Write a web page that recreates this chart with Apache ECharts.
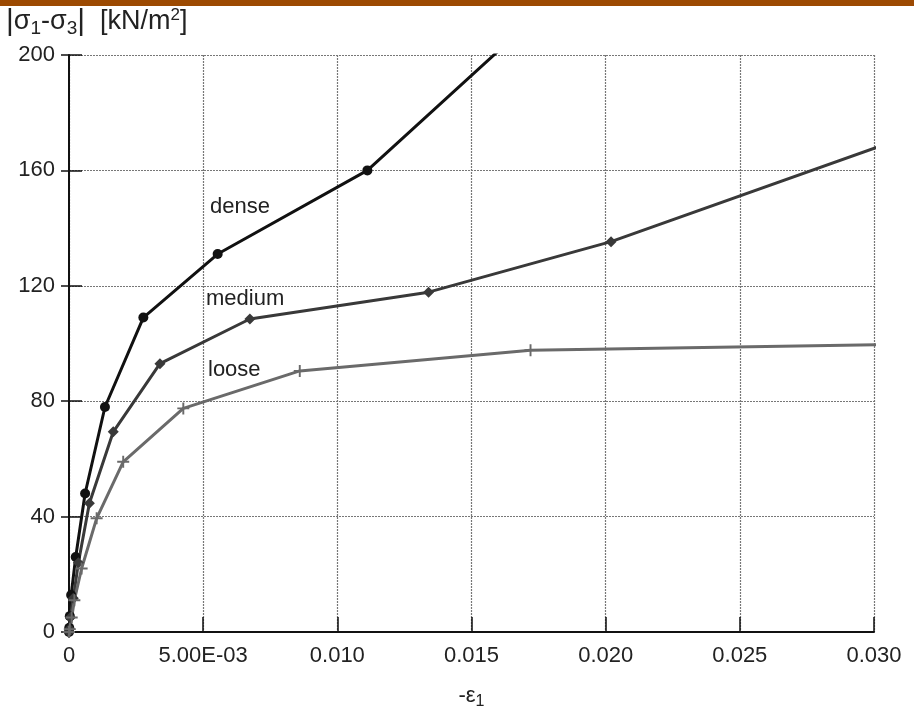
<!DOCTYPE html>
<html><head><meta charset="utf-8">
<script src="https://cdn.jsdelivr.net/npm/echarts@6/dist/echarts.min.js"></script>
</head>
<body style="margin:0;padding:0;background:#fff;">
<div id="chart" style="width:914px;height:710px;"></div>
<script>
// strain (-eps1) and deviator stress |s1-s3| [kN/m2]
const denseX  = [0, 0.00001, 0.00003, 0.00008, 0.00025, 0.0006, 0.00134, 0.00277, 0.00554, 0.01112, 0.0222];
const denseY  = [0, 1.5, 5.5, 12.8, 26, 48, 78, 109, 131, 160, 254];
const mediumX = [0, 0.00002, 0.00005, 0.00016, 0.00035, 0.00076, 0.00165, 0.00339, 0.00674, 0.0134, 0.0202, 0.0404];
const mediumY = [0, 1, 5, 11.7, 24, 44.6, 69.4, 93, 108.5, 117.8, 135.3, 202];
const looseX  = [0, 0.00003, 0.0001, 0.0002, 0.00047, 0.00103, 0.00202, 0.00426, 0.0086, 0.0172, 0.0344];
const looseY  = [0, 1, 5, 11, 22, 39.4, 59, 77.5, 90.5, 97.7, 100.2];

const xTicks = [0, 0.005, 0.010, 0.015, 0.020, 0.025, 0.030];
const xTickLabels = ['0', '5.00E-03', '0.010', '0.015', '0.020', '0.025', '0.030'];
const yTicks = [0, 40, 80, 120, 160, 200];

const zip = (xs, ys) => xs.map((x, i) => [x, ys[i]]);
const font = '"Liberation Sans", Arial, sans-serif';
const txt = '#222';

const chart = echarts.init(document.getElementById('chart'));

const crossPath = 'path://M4.2,0h1.6v10h-1.6z M0,4.2h10v1.6h-10z';
const grid = { type: [2, 1], color: '#777', width: 1.2 };

chart.setOption({
  animation: false,
  grid: { left: 69, right: 40, top: 55, bottom: 78, outerBoundsMode: 'none', containLabel: false },
  xAxis: {
    type: 'value', min: 0, max: 0.03, interval: 0.005,
    name: '{a|-ε}{s|1}', nameLocation: 'middle', nameGap: 50,
    nameTextStyle: {
      rich: {
        a: { fontFamily: font, fontSize: 22, color: txt },
        s: { fontFamily: font, fontSize: 16, color: txt, padding: [12, 0, 0, 0] }
      }
    },
    axisLine: { lineStyle: { color: '#111', width: 2 } },
    axisTick: { inside: true, length: 15, lineStyle: { color: '#111', width: 1.5 } },
    axisLabel: {
      margin: 13, fontFamily: font, fontSize: 22, color: txt,
      formatter: v => {
        const i = xTicks.findIndex(t => Math.abs(t - v) < 1e-9);
        return i >= 0 ? xTickLabels[i] : '';
      }
    },
    splitLine: { show: true, lineStyle: grid }
  },
  yAxis: [
    {
      type: 'value', min: 0, max: 200, interval: 40,
      axisLine: { show: true, lineStyle: { color: '#111', width: 2 } },
      axisTick: { show: true, length: 8, lineStyle: { color: '#111', width: 1.5 } },
      axisLabel: {
        margin: 14, fontFamily: font, fontSize: 22, color: txt,
        formatter: v => yTicks.includes(v) ? String(v) : ''
      },
      splitLine: { show: true, lineStyle: grid }
    },
    {
      // inner half of the crossing y ticks
      type: 'value', position: 'left', min: 0, max: 200, interval: 40,
      axisLine: { show: false },
      axisTick: { show: true, inside: true, length: 13, lineStyle: { color: '#111', width: 1.5 } },
      axisLabel: { show: false },
      splitLine: { show: false }
    }
  ],
  series: [
    {
      name: 'dense', type: 'line', data: zip(denseX, denseY), clip: true,
      symbol: 'circle', symbolSize: 10,
      lineStyle: { color: '#111', width: 3 }, itemStyle: { color: '#111' }
    },
    {
      name: 'medium', type: 'line', data: zip(mediumX, mediumY), clip: true,
      symbol: 'diamond', symbolSize: 11,
      lineStyle: { color: '#393939', width: 3 }, itemStyle: { color: '#393939' }
    },
    {
      name: 'loose', type: 'line', data: zip(looseX, looseY), clip: true,
      symbol: crossPath, symbolSize: 12,
      lineStyle: { color: '#6a6a6a', width: 3 }, itemStyle: { color: '#6a6a6a' }
    }
  ],
  graphic: [
    { type: 'rect', left: 0, top: 0, shape: { width: 914, height: 6 }, style: { fill: '#9c4a02' } },
    {
      type: 'text', left: 6, top: 7,
      style: {
        text: '{b||}{g|σ}{s|1}{g|-σ}{s|3}{b||}{g|  [kN/m}{p|2}{g|]}',
        rich: {
          b: { fontFamily: font, fontSize: 30, fill: txt },
          g: { fontFamily: font, fontSize: 27, fill: txt },
          s: { fontFamily: font, fontSize: 19, fill: txt, padding: [14, 0, 0, 0] },
          p: { fontFamily: font, fontSize: 17, fill: txt, padding: [0, 0, 13, 0] }
        }
      }
    },
    { type: 'text', left: 210, top: 196, style: { text: 'dense', font: '22px ' + font, fill: txt } },
    { type: 'text', left: 206, top: 288, style: { text: 'medium', font: '22px ' + font, fill: txt } },
    { type: 'text', left: 208, top: 359, style: { text: 'loose', font: '22px ' + font, fill: txt } }
  ]
});
</script>
</body></html>
